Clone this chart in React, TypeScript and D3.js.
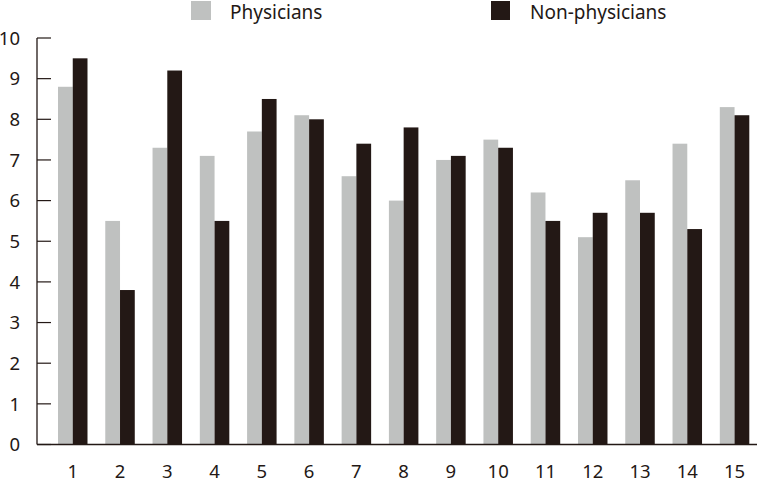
import React from "react";
import * as d3 from "d3";

const width = 758;
const height = 482;

const categories = ["1", "2", "3", "4", "5", "6", "7", "8", "9", "10", "11", "12", "13", "14", "15"];
const physicians = [8.8, 5.5, 7.3, 7.1, 7.7, 8.1, 6.6, 6.0, 7.0, 7.5, 6.2, 5.1, 6.5, 7.4, 8.3];
const nonPhysicians = [9.5, 3.8, 9.2, 5.5, 8.5, 8.0, 7.4, 7.8, 7.1, 7.3, 5.5, 5.7, 5.7, 5.3, 8.1];
const yTicks = [0, 1, 2, 3, 4, 5, 6, 7, 8, 9, 10];
const seriesNames = ["Physicians", "Non-physicians"];
const colors = ["#bfc1c0", "#231815"];

const font = "'Noto Sans', sans-serif";

function App() {
    const axisLeft = 37;
    const axisRight = 757;

    const x = d3.scaleBand()
        .domain(categories)
        .range([58, 749.3])
        .paddingInner(0.376)
        .paddingOuter(0);

    const inner = d3.scaleBand()
        .domain(seriesNames)
        .range([0, x.bandwidth()]);

    const y = d3.scaleLinear().domain([0, 10]).range([444.5, 38]);

    const series = [physicians, nonPhysicians];

    return (
        <svg width={width} height={height} style={{position: "absolute", left: 0, top: 0}}>
            <rect width={width} height={height} fill="#fff"/>
            {series.map((vals, s) => (
                <g key={s}>
                    {vals.map((v, i) => (
                        <rect key={i}
                              x={x(categories[i])! + inner(seriesNames[s])!}
                              y={y(v)}
                              width={inner.bandwidth()}
                              height={y(0) - y(v)}
                              fill={colors[s]}/>
                    ))}
                </g>
            ))}
            {/* y axis */}
            <line x1={axisLeft} x2={axisLeft} y1={y(10)} y2={y(0)} stroke="#231815" strokeWidth={1.3}/>
            {yTicks.map(t => (
                <g key={t}>
                    <line x1={axisLeft} x2={axisLeft + 14} y1={y(t)} y2={y(t)} stroke="#231815" strokeWidth={1.2}/>
                    <text x={20} y={y(t)} dy="0.36em" textAnchor="end" fontFamily={font} fontSize={18.5} fill="#231815">{t}</text>
                </g>
            ))}
            {/* x axis */}
            <line x1={axisLeft} x2={axisRight} y1={y(0)} y2={y(0)} stroke="#231815" strokeWidth={1.3}/>
            {categories.map(c => (
                <text key={c} x={x(c)! + x.bandwidth() / 2} y={478} textAnchor="middle"
                      fontFamily={font} fontSize={18.5} fill="#231815">{c}</text>
            ))}
            {/* legend */}
            <rect x={191} y={1} width={20} height={19} fill={colors[0]}/>
            <text x={230} y={18.5} fontFamily={font} fontSize={19} fill="#231815">{seriesNames[0]}</text>
            <rect x={491} y={1} width={19} height={19} fill={colors[1]}/>
            <text x={530} y={18.5} fontFamily={font} fontSize={19} fill="#231815">{seriesNames[1]}</text>
        </svg>
    );
}

export default App;
